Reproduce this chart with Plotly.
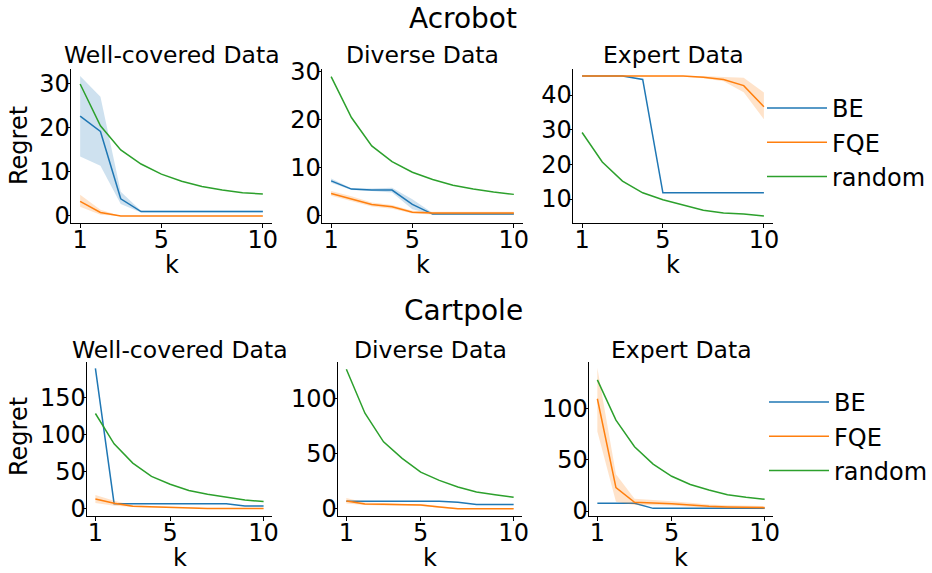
import plotly.graph_objects as go

K = [1, 2, 3, 4, 5, 6, 7, 8, 9, 10]

# ---- Acrobot ----
acro_well_be = [22.7, 19.2, 3.9, 1.0, 1.0, 1.0, 1.0, 1.0, 1.0, 1.0]
acro_well_be_lo = [13.5, 11.4, 2.7, 0.8, 0.8, 0.8, 0.8, 0.8, 0.8, 0.8]
acro_well_be_hi = [31.8, 27.1, 5.5, 1.2, 1.2, 1.2, 1.2, 1.2, 1.2, 1.2]
acro_well_fqe = [3.3, 0.8, 0.0, 0.0, 0.0, 0.0, 0.0, 0.0, 0.0, 0.0]
acro_well_fqe_lo = [2.1, 0.3, 0.0, 0.0, 0.0, 0.0, 0.0, 0.0, 0.0, 0.0]
acro_well_fqe_hi = [4.8, 1.4, 0.0, 0.0, 0.0, 0.0, 0.0, 0.0, 0.0, 0.0]
acro_well_rand = [30.0, 20.5, 15.0, 11.8, 9.5, 7.9, 6.7, 5.9, 5.3, 5.0]

acro_div_be = [7.3, 5.6, 5.4, 5.4, 2.4, 0.4, 0.4, 0.4, 0.4, 0.4]
acro_div_be_lo = [6.9, 5.4, 5.2, 4.9, 1.4, 0.3, 0.3, 0.3, 0.3, 0.3]
acro_div_be_hi = [7.8, 5.8, 5.7, 5.9, 3.5, 0.6, 0.6, 0.6, 0.6, 0.6]
acro_div_fqe = [4.7, 3.6, 2.4, 1.9, 0.8, 0.6, 0.6, 0.6, 0.6, 0.6]
acro_div_fqe_lo = [4.2, 3.1, 2.0, 1.5, 0.5, 0.3, 0.3, 0.3, 0.3, 0.3]
acro_div_fqe_hi = [5.2, 4.1, 2.8, 2.3, 1.1, 0.9, 0.9, 0.9, 0.9, 0.9]
acro_div_rand = [29.0, 20.5, 14.6, 11.3, 9.1, 7.6, 6.4, 5.6, 5.0, 4.5]

acro_exp_be = [45.5, 45.5, 45.5, 44.5, 11.8, 11.8, 11.8, 11.8, 11.8, 11.8]
acro_exp_be_lo = [45.5, 45.5, 45.5, 44.5, 11.8, 11.8, 11.8, 11.8, 11.8, 11.8]
acro_exp_be_hi = [45.5, 45.5, 45.5, 44.5, 11.8, 11.8, 11.8, 11.8, 11.8, 11.8]
acro_exp_fqe = [45.5, 45.5, 45.5, 45.5, 45.5, 45.5, 45.1, 44.5, 42.7, 36.6]
acro_exp_fqe_lo = [45.4, 45.4, 45.4, 45.4, 45.4, 45.3, 44.8, 44.0, 40.8, 33.0]
acro_exp_fqe_hi = [45.6, 45.6, 45.6, 45.6, 45.6, 45.6, 45.5, 45.2, 45.0, 40.7]
acro_exp_rand = [29.2, 20.7, 15.2, 11.8, 9.8, 8.3, 6.8, 6.0, 5.7, 5.1]

# ---- Cartpole ----
cart_well_be = [190, 7.2, 7.2, 7.2, 7.2, 7.2, 7.2, 7.2, 4.0, 4.0]
cart_well_be_lo = [190, 7.2, 7.2, 7.2, 7.2, 7.2, 7.2, 7.2, 4.0, 4.0]
cart_well_be_hi = [190, 7.2, 7.2, 7.2, 7.2, 7.2, 7.2, 7.2, 4.0, 4.0]
cart_well_fqe = [13.5, 7.7, 3.6, 2.7, 2.3, 1.8, 0.5, 0.5, 0.5, 0.5]
cart_well_fqe_lo = [8.0, 4.5, 2.5, 2.0, 1.6, 1.2, 0.2, 0.2, 0.2, 0.2]
cart_well_fqe_hi = [19.0, 11.0, 5.0, 3.6, 3.0, 2.5, 0.9, 0.9, 0.9, 0.9]
cart_well_rand = [129, 88, 62, 44, 33.4, 25, 20, 16, 12, 10]

cart_div_be = [7, 7, 7, 7, 7, 7, 6, 4, 4, 4]
cart_div_be_lo = [7, 7, 7, 7, 7, 7, 6, 4, 4, 4]
cart_div_be_hi = [7, 7, 7, 7, 7, 7, 6, 4, 4, 4]
cart_div_fqe = [7.3, 4.6, 4.2, 3.6, 3.6, 1.8, 0.3, 0.3, 0.3, 0.3]
cart_div_fqe_lo = [5.0, 3.5, 3.2, 2.7, 2.7, 1.0, 0.0, 0.0, 0.0, 0.0]
cart_div_fqe_hi = [10.0, 5.8, 5.2, 4.5, 4.5, 2.6, 0.8, 0.8, 0.8, 0.8]
cart_div_rand = [127, 87, 61, 46, 33.4, 26, 20, 15.5, 13, 10.6]

cart_exp_be = [7.5, 7.5, 7.5, 2.6, 2.6, 2.6, 2.6, 2.6, 2.6, 2.6]
cart_exp_be_lo = [7.5, 7.5, 7.5, 2.6, 2.6, 2.6, 2.6, 2.6, 2.6, 2.6]
cart_exp_be_hi = [7.5, 7.5, 7.5, 2.6, 2.6, 2.6, 2.6, 2.6, 2.6, 2.6]
cart_exp_fqe = [110, 23, 8.5, 8, 7.2, 6, 4.6, 4, 3.6, 3.3]
cart_exp_fqe_lo = [78, 9, 6, 6, 5.3, 4.2, 3.0, 2.5, 2.0, 1.8]
cart_exp_fqe_hi = [140, 36, 12, 11, 9.5, 8, 6.3, 5.6, 5.2, 4.8]
cart_exp_rand = [128.5, 89, 63, 46, 34, 26, 20.6, 16, 13.4, 11.5]

X_TICKS = [1, 5, 10]
SUPTITLES = ["Acrobot", "Cartpole"]
SUBTITLES = ["Well-covered Data", "Diverse Data", "Expert Data"]
SERIES = ["BE", "FQE", "random"]

panels = [
    [(acro_well_be, acro_well_be_lo, acro_well_be_hi),
     (acro_well_fqe, acro_well_fqe_lo, acro_well_fqe_hi),
     (acro_well_rand, acro_well_rand, acro_well_rand)],
    [(acro_div_be, acro_div_be_lo, acro_div_be_hi),
     (acro_div_fqe, acro_div_fqe_lo, acro_div_fqe_hi),
     (acro_div_rand, acro_div_rand, acro_div_rand)],
    [(acro_exp_be, acro_exp_be_lo, acro_exp_be_hi),
     (acro_exp_fqe, acro_exp_fqe_lo, acro_exp_fqe_hi),
     (acro_exp_rand, acro_exp_rand, acro_exp_rand)],
    [(cart_well_be, cart_well_be_lo, cart_well_be_hi),
     (cart_well_fqe, cart_well_fqe_lo, cart_well_fqe_hi),
     (cart_well_rand, cart_well_rand, cart_well_rand)],
    [(cart_div_be, cart_div_be_lo, cart_div_be_hi),
     (cart_div_fqe, cart_div_fqe_lo, cart_div_fqe_hi),
     (cart_div_rand, cart_div_rand, cart_div_rand)],
    [(cart_exp_be, cart_exp_be_lo, cart_exp_be_hi),
     (cart_exp_fqe, cart_exp_fqe_lo, cart_exp_fqe_hi),
     (cart_exp_rand, cart_exp_rand, cart_exp_rand)],
]

W, H = 932, 573
FONT = "DejaVu Sans"
COLORS = ["#1f77b4", "#ff7f0e", "#2ca02c"]
FILLS = ["rgba(31,119,180,0.22)", "rgba(255,127,14,0.22)", "rgba(44,160,44,0.22)"]

# axes pixel boxes (left, right, top, bottom)
boxes = [
    (71, 272, 69, 223), (322, 523, 69, 223), (573, 773, 69, 223),
    (87, 272, 362, 516), (338, 522, 362, 516), (589, 773, 362, 516),
]
yranges = [
    ([-1.6, 33.4], [0, 10, 20, 30]),
    ([-1.46, 30.6], [0, 10, 20, 30]),
    ([3.1, 47.5], [10, 20, 30, 40]),
    ([-9.5, 198.6], [0, 50, 100, 150]),
    ([-6.4, 133.6], [0, 50, 100]),
    ([-4.9, 146], [0, 50, 100]),
]

fig = go.Figure()
layout = dict(
    width=W, height=H, margin=dict(l=0, r=0, t=0, b=0, autoexpand=False),
    paper_bgcolor="white", plot_bgcolor="white",
    font=dict(family=FONT, size=24, color="black"),
    showlegend=True,
)

def px_x(p):
    return p / W

def px_y(p):
    return 1 - p / H

annotations = []
for i, (series, box, (yr, yt)) in enumerate(zip(panels, boxes, yranges)):
    n = i + 1
    xa = "xaxis" if n == 1 else f"xaxis{n}"
    ya = "yaxis" if n == 1 else f"yaxis{n}"
    xref = "x" if n == 1 else f"x{n}"
    yref = "y" if n == 1 else f"y{n}"
    l, r, t, b = box
    common = dict(showgrid=False, zeroline=False, showline=True, linecolor="black",
                  linewidth=1, ticks="outside", ticklen=3.5, tickwidth=1, tickcolor="black",
                  tickfont=dict(family=FONT, size=24, color="black"), fixedrange=True,
                  automargin=False, ticklabelstandoff=-8)
    layout[xa] = dict(domain=[px_x(l), px_x(r)], anchor=yref, range=[0.55, 10.45],
                      tickvals=X_TICKS, **common)
    layout[ya] = dict(domain=[px_y(b), px_y(t)], anchor=xref, range=yr, tickvals=yt, **common)
    row = i // 3
    legend_name = "legend" if row == 0 else "legend2"
    for j, (mean, lo, hi) in enumerate(series):
        if j < 2:
            fig.add_trace(go.Scatter(x=K, y=lo, xaxis=xref, yaxis=yref, mode="lines",
                                     line=dict(width=0), showlegend=False, hoverinfo="skip",
                                     legend=legend_name))
            fig.add_trace(go.Scatter(x=K, y=hi, xaxis=xref, yaxis=yref, mode="lines",
                                     line=dict(width=0), fill="tonexty", fillcolor=FILLS[j],
                                     showlegend=False, hoverinfo="skip", legend=legend_name))
        fig.add_trace(go.Scatter(x=K, y=mean, xaxis=xref, yaxis=yref, mode="lines",
                                 name=SERIES[j], line=dict(color=COLORS[j], width=1.5),
                                 showlegend=(i % 3 == 2), legend=legend_name))
    # subplot title
    ty = 55 if row == 0 else 350
    annotations.append(dict(text=SUBTITLES[i % 3], x=px_x((l + r) / 2), y=px_y(ty),
                            xref="paper", yref="paper", showarrow=False,
                            xanchor="center", yanchor="middle", font=dict(size=23.5)))
    # x label
    ky = 265 if row == 0 else 558
    annotations.append(dict(text="k", x=px_x((l + r) / 2), y=px_y(ky),
                            xref="paper", yref="paper", showarrow=False,
                            xanchor="center", yanchor="middle", font=dict(size=24)))

# y labels
for cy in (146, 437):
    annotations.append(dict(text="Regret", x=px_x(19), y=px_y(cy), xref="paper", yref="paper",
                            showarrow=False, textangle=-90, xanchor="center", yanchor="middle",
                            font=dict(size=24)))
# suptitles
for txt, cy in zip(SUPTITLES, (18, 310)):
    annotations.append(dict(text=txt, x=px_x(463), y=px_y(cy), xref="paper", yref="paper",
                            showarrow=False, xanchor="center", yanchor="middle",
                            font=dict(size=28)))

layout["annotations"] = annotations
leg_common = dict(xanchor="left", yanchor="top", bgcolor="rgba(0,0,0,0)",
                  font=dict(family=FONT, size=24, color="black"), itemwidth=60,
                  traceorder="normal", itemclick=False, itemdoubleclick=False)
layout["legend"] = dict(x=px_x(762), y=px_y(86), **leg_common)
layout["legend2"] = dict(x=px_x(764), y=px_y(380), **leg_common)

fig.update_layout(**layout)
fig.write_html("out.html", config={"displayModeBar": False},
               post_script="document.body.style.margin='0';")
